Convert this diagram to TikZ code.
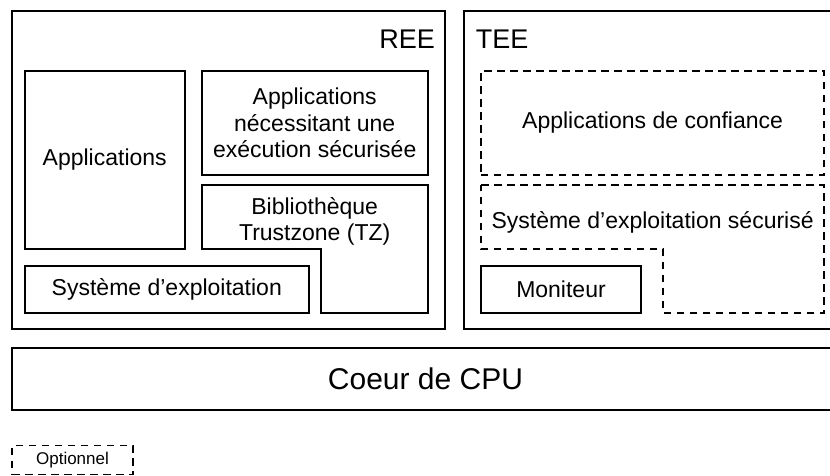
\documentclass[tikz,border=0pt]{standalone}
\usepackage{fontspec}
\setmainfont{Liberation Sans}
\begin{document}
\begin{tikzpicture}[x=1pt,y=-1pt,
  solidbox/.style={draw, line width=1.8pt, inner sep=0pt, outer sep=0pt, align=center, font=\fontsize{23}{26.5}\selectfont},
  dashbox/.style={solidbox, dash pattern=on 7.5pt off 5.5pt},
  lbl/.style={inner sep=0pt, align=center, font=\fontsize{23}{26.5}\selectfont},
  bigl/.style={inner sep=0pt, font=\fontsize{27}{30}\selectfont},
  lshape/.style={line width=1.8pt, line join=miter},
]
\useasboundingbox (0,0) rectangle (830,475);
% REE
\node[solidbox, minimum width=433pt, minimum height=318pt] (ree) at (228.8,170) {};
\node[bigl, anchor=base east] (reet) at (435,48) {REE};
\node[solidbox, minimum width=160pt, minimum height=178pt] (apps) at (104.7,160) {Applications};
\node[solidbox, minimum width=226pt, minimum height=104pt] (appsec) at (314.7,123) {Applications\\nécessitant une\\exécution sécurisée};
\draw[lshape] (201.7,185.3) coordinate (tz1) -- (427.7,185.3) -- (427.7,313) -- (321,313) -- (321,249) -- (201.7,249) -- cycle;
\node[lbl] (tz) at (314.7,221.5) {Bibliothèque\\Trustzone (TZ)};
\node[solidbox, minimum width=284.3pt, minimum height=47.3pt] (os) at (166.8,289.3) {Système d’exploitation};
% TEE
\draw[line width=1.8pt] (840,11) -- (464.3,11) -- (464.3,329) -- (840,329);
\node[bigl, anchor=base west] (teet) at (475.7,48) {TEE};
\node[dashbox, minimum width=343.3pt, minimum height=104pt] (ta) at (652.6,123) {Applications de confiance};
\draw[lshape, dash pattern=on 7.5pt off 5.5pt] (481,185.3) -- (824.3,185.3) -- (824.3,313) -- (663.3,313) -- (663.3,249) -- (481,249) -- cycle;
\node[lbl] (sos) at (652.6,222) {Système d’exploitation sécurisé};
\node[solidbox, minimum width=160pt, minimum height=47.3pt] (mon) at (561,289.3) {Moniteur};
% CPU
\draw[line width=1.8pt] (840,348) -- (12,348) -- (12,410) -- (840,410);
\node[inner sep=0pt, font=\fontsize{30}{34}\selectfont] (cpu) at (425.5,379) {Coeur de CPU};
% legend
\node[dashbox, minimum width=121pt, minimum height=29pt, font=\fontsize{17}{20}\selectfont, line width=1.5pt] (opt) at (72.5,460) {Optionnel};
\end{tikzpicture}
\end{document}
